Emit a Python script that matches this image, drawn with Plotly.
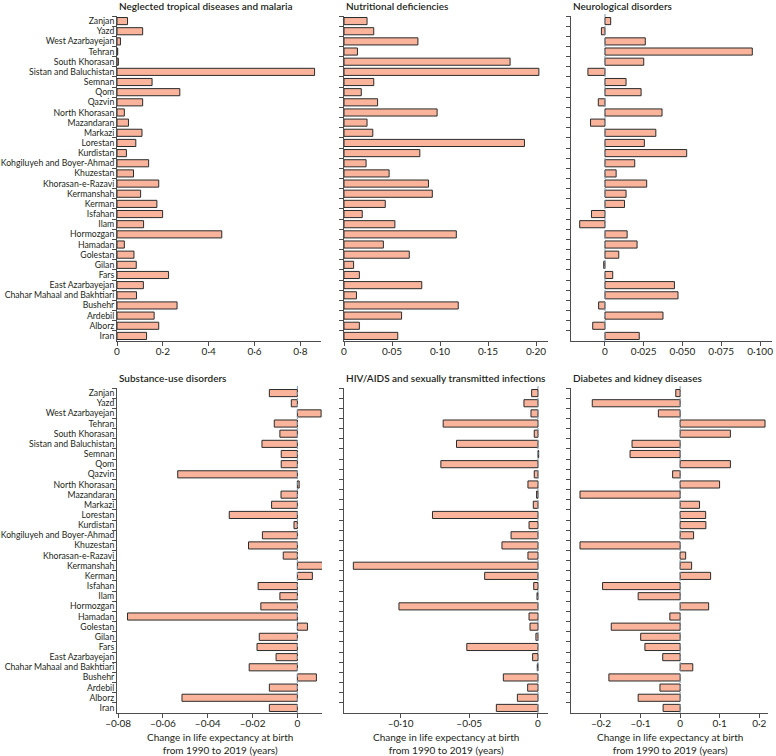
import plotly.graph_objects as go

provinces = ["Zanjan", "Yazd", "West Azarbayejan", "Tehran", "South Khorasan",
             "Sistan and Baluchistan", "Semnan", "Qom", "Qazvin", "North Khorasan",
             "Mazandaran", "Markazi", "Lorestan", "Kurdistan", "Kohgiluyeh and Boyer-Ahmad",
             "Khuzestan", "Khorasan-e-Razavi", "Kermanshah", "Kerman", "Isfahan", "Ilam",
             "Hormozgan", "Hamadan", "Golestan", "Gilan", "Fars", "East Azarbayejan",
             "Chahar Mahaal and Bakhtiari", "Bushehr", "Ardebil", "Alborz", "Iran"]

ntd = [0.046, 0.112, 0.015, 0.003, 0.006, 0.862, 0.153, 0.274, 0.112, 0.032,
       0.050, 0.109, 0.082, 0.041, 0.138, 0.072, 0.182, 0.103, 0.174, 0.199,
       0.116, 0.457, 0.032, 0.074, 0.084, 0.225, 0.115, 0.085, 0.262, 0.162,
       0.182, 0.129]

nutritional = [0.024, 0.031, 0.077, 0.014, 0.173, 0.203, 0.031, 0.018, 0.035, 0.097,
               0.024, 0.030, 0.188, 0.079, 0.023, 0.047, 0.088, 0.092, 0.043, 0.019,
               0.053, 0.117, 0.041, 0.068, 0.010, 0.016, 0.081, 0.013, 0.119, 0.060,
               0.016, 0.056]

neuro = [0.0037, -0.0023, 0.026, 0.095, 0.025, -0.011, 0.0136, 0.0233, -0.0043, 0.0368,
         -0.0093, 0.0328, 0.0254, 0.0527, 0.0192, 0.0072, 0.0269, 0.0136, 0.0126, -0.0087,
         -0.0163, 0.0143, 0.0207, 0.0089, -0.0008, 0.005, 0.0448, 0.0471, -0.0041, 0.0374,
         -0.0079, 0.0221]

substance = [-0.0125, -0.0027, 0.0106, -0.0103, -0.0078, -0.0158, -0.0072, -0.0072, -0.0534, 0.0008,
             -0.0073, -0.0115, -0.0304, -0.0015, -0.0156, -0.0218, -0.0063, 0.0155, 0.0067, -0.0175,
             -0.0078, -0.0163, -0.0758, 0.0045, -0.0170, -0.0180, -0.0095, -0.0215, 0.0085, -0.0125,
             -0.0515, -0.0125]

hiv = [-0.0046, -0.0102, -0.0051, -0.0690, -0.0027, -0.0593, 0.0005, -0.0707, -0.0027, -0.0073,
       -0.0010, -0.0034, -0.0768, -0.0065, -0.0196, -0.0262, -0.0073, -0.1344, -0.0388, -0.0031,
       -0.0007, -0.1012, -0.0065, -0.0058, -0.0015, -0.0518, -0.0039, -0.0005, -0.0252, -0.0075,
       -0.0150, -0.0303]

diabetes = [-0.011, -0.222, -0.055, 0.2145, 0.127, -0.1215, -0.1265, 0.127, -0.019, 0.0997,
            -0.253, 0.049, 0.0645, 0.065, 0.034, -0.253, 0.014, 0.029, 0.077, -0.196,
            -0.106, 0.072, -0.026, -0.174, -0.0997, -0.089, -0.044, 0.032, -0.180, -0.051,
            -0.106, -0.043]

titles = ["Neglected tropical diseases and malaria", "Nutritional deficiencies",
          "Neurological disorders", "Substance-use disorders",
          "HIV/AIDS and sexually transmitted infections", "Diabetes and kidney diseases"]
series = [ntd, nutritional, neuro, substance, hiv, diabetes]
tick_vals = [[0, 0.2, 0.4, 0.6, 0.8],
             [0, 0.05, 0.10, 0.15, 0.20],
             [0, 0.025, 0.05, 0.075, 0.1],
             [-0.08, -0.06, -0.04, -0.02, 0],
             [-0.10, -0.05, 0],
             [-0.2, -0.1, 0, 0.1, 0.2]]
tick_text = [["0", "0·2", "0·4", "0·6", "0·8"],
             ["0", "0·05", "0·10", "0·15", "0·20"],
             ["0", "0·025", "0·050", "0·075", "0·100"],
             ["–0·08", "–0·06", "–0·04", "–0·02", "0"],
             ["–0·10", "–0·05", "0"],
             ["–0·2", "–0·1", "0", "0·1", "0·2"]]
x_ranges = [[0, 0.89], [0, 0.2125], [-0.0219, 0.1077],
            [-0.0805, 0.011], [-0.1412, 0.0073], [-0.2757, 0.222]]
xaxis_title = "Change in life expectancy at birth<br>from 1990 to 2019 (years)"

W, H = 776, 756
FONT = "Lato, Roboto, Arial, sans-serif"
TXT = "#231f20"
AX = "#4d4d4d"
BAR = "#f9b49b"
EDGE = "#2b2b2b"

# pixel layout: (x0, x1) per panel, (ytop, ybottom) per panel
px_x = [(117, 321), (344, 548), (571, 772), (117, 322), (344, 548), (571, 768)]
px_y = [(16, 341), (16, 341), (16, 341), (388, 713), (388, 713), (388, 713)]

fig = go.Figure()
layout = dict(width=W, height=H, margin=dict(l=0, r=0, t=0, b=0),
              plot_bgcolor="white", paper_bgcolor="white", showlegend=False,
              bargap=0.3, font=dict(family=FONT, size=10, color=TXT))
annotations = []
shapes = []

for i in range(6):
    n = "" if i == 0 else str(i + 1)
    fig.add_trace(go.Bar(x=series[i], y=provinces, orientation="h",
                         xaxis="x" + n, yaxis="y" + n,
                         marker=dict(color=BAR, line=dict(color=EDGE, width=1)),
                         hoverinfo="x+y"))
    x0, x1 = px_x[i]
    yt, yb = px_y[i]
    layout["xaxis" + n] = dict(domain=[x0 / W, x1 / W], anchor="y" + n,
                               range=x_ranges[i], tickvals=tick_vals[i], ticktext=tick_text[i],
                               showgrid=False, zeroline=False, showline=True, linecolor=AX,
                               linewidth=1, ticks="outside", ticklen=4, tickcolor=AX,
                               ticklabelstandoff=-3, ticklabeloverflow="allow",
                               tickfont=dict(size=10, color=TXT), automargin=False)
    layout["yaxis" + n] = dict(domain=[1 - yb / H, 1 - yt / H], anchor="x" + n,
                               type="category", categoryorder="array", categoryarray=provinces,
                               autorange="reversed", tickmode="linear", dtick=1,
                               showgrid=False, zeroline=False,
                               showline=True, linecolor=AX, linewidth=1, ticks="outside",
                               ticklen=4, tickcolor=AX, tickson="boundaries",
                               ticklabelstandoff=0, ticklabeloverflow="allow",
                               showticklabels=(i in (0, 3)),
                               tickfont=dict(size=8.7, color=TXT), automargin=False)
    annotations.append(dict(text=titles[i], xref="paper", yref="paper",
                            x=x0 / W, y=1 - (yt - 10) / H, xanchor="left", yanchor="middle",
                            showarrow=False,
                            font=dict(size=10, color=TXT, family=FONT, weight=600)))
    if i >= 2:
        shapes.append(dict(type="line", xref="x" + n, yref="y" + n + " domain",
                           x0=0, x1=0, y0=0, y1=1.01, layer="above",
                           line=dict(color="#7f98b0", width=1, dash="dot")))
    if i >= 3:
        annotations.append(dict(text=xaxis_title, xref="paper", yref="paper",
                                x=(x0 + x1) / 2 / W, y=1 - 729 / H, xanchor="center",
                                yanchor="top", showarrow=False, align="center",
                                font=dict(size=10, color=TXT, family=FONT)))

layout["annotations"] = annotations
layout["shapes"] = shapes
fig.update_layout(**layout)
fig.write_html("out.html", config={"displayModeBar": False},
               post_script="document.body.style.margin='0px';")
